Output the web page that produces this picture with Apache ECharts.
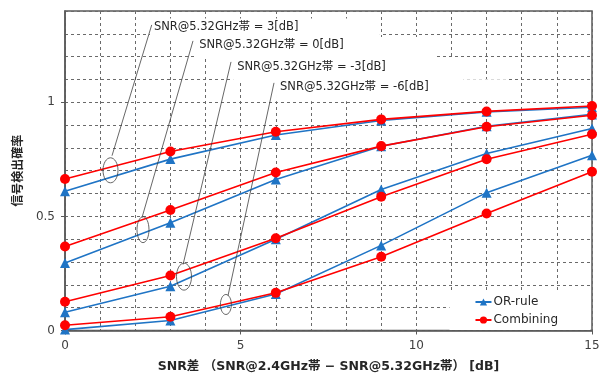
<!DOCTYPE html>
<html><head><meta charset="utf-8">
<script src="https://cdn.jsdelivr.net/npm/echarts@6/dist/echarts.min.js"></script>
<style>html,body{margin:0;padding:0;background:#fff}#c{width:608px;height:378px}</style>
</head><body><div id="c"></div>
<script>
// ---- data ----
const xValues = [0, 3, 6, 9, 12, 15];
const orRule_p3 = [0.610, 0.751, 0.857, 0.920, 0.958, 0.978];
const combining_p3 = [0.664, 0.784, 0.871, 0.925, 0.960, 0.984];
const orRule_0 = [0.296, 0.472, 0.662, 0.807, 0.895, 0.947];
const combining_0 = [0.368, 0.528, 0.692, 0.808, 0.893, 0.943];
const orRule_m3 = [0.080, 0.194, 0.400, 0.618, 0.776, 0.885];
const combining_m3 = [0.126, 0.241, 0.404, 0.586, 0.750, 0.860];
const orRule_m6 = [0.004, 0.044, 0.160, 0.373, 0.604, 0.768];
const combining_m6 = [0.023, 0.060, 0.165, 0.323, 0.513, 0.696];
const xTickValues = [0, 5, 10, 15];
const yTickValues = [0, 0.5, 1];
const groupLabels = ['SNR@5.32GHz帯 = 3[dB]', 'SNR@5.32GHz帯 = 0[dB]', 'SNR@5.32GHz帯 = -3[dB]', 'SNR@5.32GHz帯 = -6[dB]'];
const seriesNames = ['OR-rule', 'Combining'];
const xName = 'SNR差 （SNR@2.4GHz帯 − SNR@5.32GHz帯） [dB]';
const yName = '信号検出確率';

// ---- style ----
const FONT = "'DejaVu Sans','Noto Sans CJK JP',sans-serif";
const BLUE = '#1f74c5', RED = '#ff0000', AX = '#595959', GRIDC = '#6a6a6a';

function pairs(ys) { return xValues.map((x, i) => [x, ys[i]]); }
const orGroups = [orRule_p3, orRule_0, orRule_m3, orRule_m6];
const combGroups = [combining_p3, combining_0, combining_m3, combining_m6];
const series = [];
orGroups.forEach(g => series.push({
  type: 'line', name: seriesNames[0], data: pairs(g), symbol: 'triangle', symbolSize: 10,
  xAxisIndex: 0, yAxisIndex: 0,
  lineStyle: { color: BLUE, width: 1.6 }, itemStyle: { color: BLUE }, z: 3, animation: false
}));
combGroups.forEach(g => series.push({
  type: 'line', name: seriesNames[1], data: pairs(g), symbol: 'circle', symbolSize: 10,
  xAxisIndex: 0, yAxisIndex: 0,
  lineStyle: { color: RED, width: 1.6 }, itemStyle: { color: RED }, z: 4, animation: false
}));

const gridAxisCommon = {
  type: 'value',
  axisLine: { show: true, lineStyle: { color: AX, width: 1.5 } },
  axisTick: { show: false }, axisLabel: { show: false },
  splitLine: { show: true, lineStyle: { color: GRIDC, type: [3, 3], width: 1 } }
};
const labelAxisCommon = {
  type: 'value',
  axisLine: { show: false },
  splitLine: { show: false }
};

const chart = echarts.init(document.getElementById('c'), null, { renderer: 'canvas' });
chart.setOption({
  animation: false,
  backgroundColor: '#fff',
  grid: { left: 65, right: 16, top: 11, bottom: 47, show: true, borderColor: AX, borderWidth: 1.5 },
  xAxis: [
    Object.assign({}, gridAxisCommon, { min: 0, max: 15, interval: 1, position: 'bottom' }),
    Object.assign({}, labelAxisCommon, {
      min: 0, max: 15, interval: 5, position: 'bottom',
      name: xName, nameLocation: 'middle', nameGap: 30,
      nameTextStyle: { fontFamily: FONT, fontSize: 12.5, fontWeight: 'bold', color: '#262626' },
      axisTick: { show: true, customValues: xTickValues, length: 4, lineStyle: { color: AX } },
      axisLabel: { customValues: xTickValues, fontFamily: FONT, fontSize: 12, color: '#404040', margin: 9 }
    })
  ],
  yAxis: [
    Object.assign({}, gridAxisCommon, { min: 0, max: 1.4, interval: 0.1, position: 'left' }),
    Object.assign({}, labelAxisCommon, {
      min: 0, max: 1.4, interval: 0.5, position: 'left',
      name: yName, nameLocation: 'middle', nameGap: 35,
      nameTextStyle: { fontFamily: FONT, fontSize: 12, fontWeight: 'bold', color: '#262626' },
      axisTick: { show: true, customValues: yTickValues, length: 4, lineStyle: { color: AX } },
      axisLabel: { customValues: yTickValues, fontFamily: FONT, fontSize: 12, color: '#404040', margin: 10 }
    })
  ],
  legend: {
    data: seriesNames, orient: 'vertical', right: 18, bottom: 48,
    backgroundColor: '#fff', padding: [4, 32, 4, 25], itemWidth: 16, itemHeight: 9, itemGap: 6,
    textStyle: { fontFamily: FONT, fontSize: 12, color: '#262626', padding: [0, 0, 0, -3] }
  },
  series: series
});

// ---- annotations (data coordinates) ----
const annots = [
  { textAt: [2.53, 1.332], lineFrom: [2.468, 1.339], lineTo: [1.338, 0.766], ell: [1.295, 0.702], rx: 7.5, ry: 12.5, boxW: 230 },
  { textAt: [3.82, 1.251], lineFrom: [3.643, 1.269], lineTo: [2.19, 0.494], ell: [2.22, 0.442], rx: 6, ry: 13, boxW: 240 },
  { textAt: [4.90, 1.156], lineFrom: [4.725, 1.177], lineTo: [3.36, 0.289], ell: [3.387, 0.236], rx: 7.5, ry: 13.5, boxW: 230 },
  { textAt: [6.12, 1.066], lineFrom: [5.949, 1.085], lineTo: [4.64, 0.153], ell: [4.58, 0.114], rx: 5.5, ry: 10, boxW: 230 }
];
const els = [];
annots.forEach((a, i) => {
  const t = chart.convertToPixel({ xAxisIndex: 0, yAxisIndex: 0 }, a.textAt);
  const p1 = chart.convertToPixel({ xAxisIndex: 0, yAxisIndex: 0 }, a.lineFrom);
  const p2 = chart.convertToPixel({ xAxisIndex: 0, yAxisIndex: 0 }, a.lineTo);
  const e = chart.convertToPixel({ xAxisIndex: 0, yAxisIndex: 0 }, a.ell);
  els.push({ type: 'rect', z: 1, silent: true, shape: { x: t[0] - 4, y: t[1] - 8, width: a.boxW, height: 22 }, style: { fill: '#fff' } });
  els.push({ type: 'text', z: 10, silent: true, style: { text: groupLabels[i], x: t[0], y: t[1], font: "11.5px " + FONT, fill: '#262626', verticalAlign: 'middle' } });
  els.push({ type: 'line', z: 10, silent: true, shape: { x1: p1[0], y1: p1[1], x2: p2[0], y2: p2[1] }, style: { stroke: '#404040', lineWidth: 0.8 } });
  els.push({ type: 'ellipse', z: 10, silent: true, shape: { cx: e[0], cy: e[1], rx: a.rx, ry: a.ry }, style: { stroke: '#404040', lineWidth: 0.8, fill: null } });
});
chart.setOption({ graphic: { elements: els } });
</script>
</body></html>
